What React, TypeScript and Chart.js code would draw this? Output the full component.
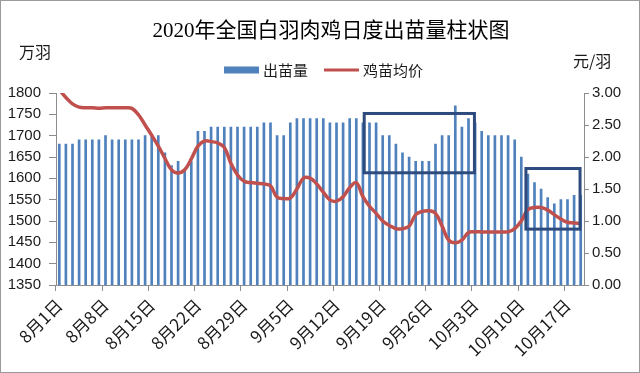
import React, { useEffect, useRef } from "react";
import { Chart, registerables } from "chart.js";

Chart.register(...registerables);

const titleText = "2020年全国白羽肉鸡日度出苗量柱状图";
const leftUnit = "万羽";
const rightUnit = "元/羽";
const seriesNames = ["出苗量", "鸡苗均价"];

const dates = [
  "8月1日", "8月2日", "8月3日", "8月4日", "8月5日", "8月6日", "8月7日", "8月8日", "8月9日", "8月10日",
  "8月11日", "8月12日", "8月13日", "8月14日", "8月15日", "8月16日", "8月17日", "8月18日", "8月19日", "8月20日",
  "8月21日", "8月22日", "8月23日", "8月24日", "8月25日", "8月26日", "8月27日", "8月28日", "8月29日", "8月30日",
  "8月31日", "9月1日", "9月2日", "9月3日", "9月4日", "9月5日", "9月6日", "9月7日", "9月8日", "9月9日",
  "9月10日", "9月11日", "9月12日", "9月13日", "9月14日", "9月15日", "9月16日", "9月17日", "9月18日", "9月19日",
  "9月20日", "9月21日", "9月22日", "9月23日", "9月24日", "9月25日", "9月26日", "9月27日", "9月28日", "9月29日",
  "9月30日", "10月1日", "10月2日", "10月3日", "10月4日", "10月5日", "10月6日", "10月7日", "10月8日", "10月9日",
  "10月10日", "10月11日", "10月12日", "10月13日", "10月14日", "10月15日", "10月16日", "10月17日", "10月18日", "10月19日",
];

// 出苗量 (万羽)
const hatchery = [
  1680, 1680, 1680, 1690, 1690, 1690, 1690, 1700, 1690, 1690,
  1690, 1690, 1690, 1700, 1700, 1700, 1660, 1630, 1640, 1620,
  1640, 1710, 1710, 1720, 1720, 1720, 1720, 1720, 1720, 1720,
  1720, 1730, 1730, 1700, 1700, 1730, 1740, 1740, 1740, 1740,
  1740, 1730, 1730, 1730, 1740, 1740, 1730, 1730, 1730, 1700,
  1700, 1680, 1660, 1650, 1640, 1640, 1640, 1680, 1700, 1700,
  1770, 1720, 1740, 1730, 1710, 1700, 1700, 1700, 1700, 1690,
  1650, 1610, 1590, 1575, 1555, 1540, 1550, 1550, 1560, 1560,
];

// 鸡苗均价 (元/羽)
const price = [
  3.05, 2.93, 2.83, 2.78, 2.77, 2.77, 2.76, 2.77, 2.77, 2.77,
  2.77, 2.76, 2.66, 2.50, 2.34, 2.17, 1.98, 1.80, 1.75, 1.80,
  1.97, 2.17, 2.25, 2.24, 2.22, 2.15, 1.90, 1.72, 1.62, 1.60,
  1.59, 1.58, 1.55, 1.37, 1.35, 1.36, 1.50, 1.67, 1.67, 1.58,
  1.45, 1.33, 1.31, 1.38, 1.52, 1.60, 1.38, 1.23, 1.12, 1.00,
  0.93, 0.88, 0.88, 0.92, 1.10, 1.15, 1.16, 1.12, 0.92, 0.70,
  0.66, 0.70, 0.82, 0.83, 0.83, 0.83, 0.83, 0.83, 0.83, 0.88,
  1.00, 1.18, 1.21, 1.21, 1.17, 1.10, 1.03, 0.98, 0.97, 0.96,
];

// highlight boxes (category index range, left-axis value range)
const boxFromIndex = [46.2, 70.7];
const boxToIndex = [62.9, 78.9];
const boxTopValue = [1752, 1623];
const boxBottomValue = [1613, 1481];

const BAR_COLOR = "#4F81BD";
const LINE_COLOR = "#C0504D";
const BOX_COLOR = "#2E4B7E";
const AXIS_COLOR = "#8C8C8C";
const TEXT_COLOR = "#1a1a1a";

const decorPlugin = {
  id: "decor",
  afterDatasetsDraw(chart: any) {
    const ctx = chart.ctx;
    const xs = chart.scales.x;
    const ys = chart.scales.y;
    ctx.save();
    ctx.strokeStyle = BOX_COLOR;
    ctx.lineWidth = 3;
    for (let i = 0; i < boxFromIndex.length; i++) {
      const x1 = xs.getPixelForValue(boxFromIndex[i]);
      const x2 = xs.getPixelForValue(boxToIndex[i]);
      const y1 = ys.getPixelForValue(boxTopValue[i]);
      const y2 = ys.getPixelForValue(boxBottomValue[i]);
      ctx.strokeRect(x1, y1, x2 - x1, y2 - y1);
    }
    ctx.restore();
  },
  afterDraw(chart: any) {
    const ctx = chart.ctx;
    ctx.save();
    // border
    ctx.strokeStyle = "#9a9a9a";
    ctx.lineWidth = 1;
    ctx.strokeRect(0.5, 0.5, chart.width - 1, chart.height - 1);

    // title
    ctx.fillStyle = "#000";
    ctx.textBaseline = "middle";
    ctx.textAlign = "center";
    ctx.font = '21px "Liberation Serif", "Noto Sans CJK SC", serif';
    ctx.fillText(titleText, 331, 31);

    // units
    ctx.textAlign = "left";
    ctx.font = '16px "Noto Sans CJK SC", sans-serif';
    ctx.fillStyle = TEXT_COLOR;
    ctx.fillText(leftUnit, 19, 52);
    ctx.fillText(rightUnit, 573, 61);

    // legend
    ctx.font = '15px "Noto Sans CJK SC", sans-serif';
    const sw = 35;
    const gap = 4;
    const between = 16;
    const ds = chart.data.datasets;
    const w0 = ctx.measureText(ds[0].label).width;
    const w1 = ctx.measureText(ds[1].label).width;
    const total = sw + gap + w0 + between + sw + gap + w1;
    let x = 323.5 - total / 2;
    const ly = 70;
    ctx.fillStyle = ds[0].backgroundColor;
    ctx.fillRect(x, ly - 3.5, sw, 7);
    x += sw + gap;
    ctx.fillStyle = TEXT_COLOR;
    ctx.fillText(ds[0].label, x, ly);
    x += w0 + between;
    ctx.strokeStyle = ds[1].borderColor;
    ctx.lineWidth = 3;
    ctx.beginPath();
    ctx.moveTo(x, ly);
    ctx.lineTo(x + sw, ly);
    ctx.stroke();
    x += sw + gap;
    ctx.fillText(ds[1].label, x, ly);
    ctx.restore();
  },
};

export default function App() {
  const canvasRef = useRef<HTMLCanvasElement | null>(null);

  useEffect(() => {
    const canvas = canvasRef.current;
    if (!canvas) return;
    const tickFont = { family: '"Liberation Sans", "Noto Sans CJK SC", sans-serif', size: 15 };
    const xFont = { family: '"Noto Sans CJK SC", sans-serif', size: 17 };
    const chart = new Chart(canvas, {
      type: "bar",
      data: {
        labels: dates,
        datasets: [
          {
            type: "bar",
            label: seriesNames[0],
            data: hatchery,
            backgroundColor: BAR_COLOR,
            borderWidth: 0,
            barThickness: 2,
            yAxisID: "y",
            order: 2,
          } as any,
          {
            type: "line",
            label: seriesNames[1],
            data: price,
            borderColor: LINE_COLOR,
            backgroundColor: LINE_COLOR,
            borderWidth: 3.5,
            pointRadius: 0,
            tension: 0.4,
            yAxisID: "y1",
            order: 1,
          } as any,
        ],
      },
      options: {
        animation: false,
        responsive: true,
        maintainAspectRatio: false,
        layout: { padding: { top: 93, left: 0, right: 0, bottom: 0 } },
        plugins: {
          legend: { display: false },
          title: { display: false },
          tooltip: { enabled: false },
        },
        scales: {
          x: {
            offset: true,
            grid: {
              offset: true,
              drawOnChartArea: false,
              drawTicks: true,
              tickLength: 6,
              color: (c: any) => (c.index % 7 === 0 ? AXIS_COLOR : "rgba(0,0,0,0)"),
            },
            border: { color: AXIS_COLOR },
            ticks: {
              autoSkip: false,
              maxRotation: 45,
              minRotation: 45,
              padding: 4,
              color: TEXT_COLOR,
              font: xFont,
              callback: (_v: any, i: number) => (i % 7 === 0 ? dates[i] : ""),
            },
            afterFit: (s: any) => {
              s.height = 88;
            },
          },
          y: {
            position: "left",
            min: 1350,
            max: 1800,
            grid: { drawOnChartArea: false, tickLength: 7, color: AXIS_COLOR },
            border: { color: AXIS_COLOR },
            ticks: {
              stepSize: 50,
              padding: 8,
              color: TEXT_COLOR,
              font: tickFont,
              callback: (v: any) => String(v),
            },
            afterFit: (s: any) => {
              s.width = 56;
            },
          },
          y1: {
            position: "right",
            min: 0,
            max: 3,
            grid: { drawOnChartArea: false, tickLength: 5, color: AXIS_COLOR },
            border: { color: AXIS_COLOR },
            ticks: {
              stepSize: 0.5,
              padding: 3,
              color: TEXT_COLOR,
              font: tickFont,
              callback: (v: any) => Number(v).toFixed(2),
            },
            afterFit: (s: any) => {
              s.width = 56;
            },
          },
        },
      } as any,
      plugins: [decorPlugin],
    });
    return () => chart.destroy();
  }, []);

  return (
    <div style={{ position: "absolute", left: 0, top: 0, width: 640, height: 373, background: "#fff" }}>
      <canvas ref={canvasRef} />
    </div>
  );
}
